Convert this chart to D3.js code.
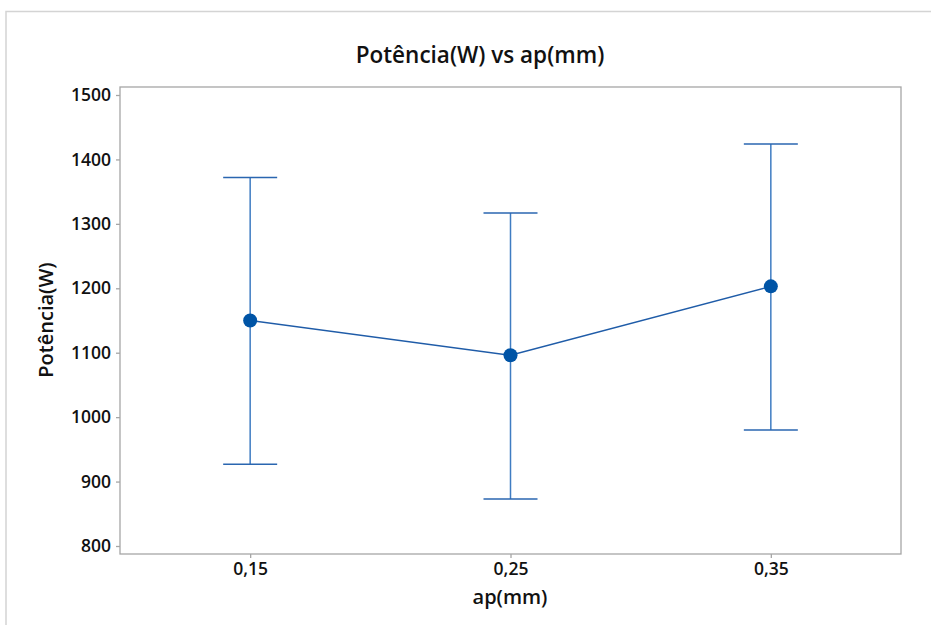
<!DOCTYPE html>
<html><head><meta charset="utf-8">
<script src="https://cdn.jsdelivr.net/npm/d3@7"></script>
<style>
html,body{margin:0;padding:0;background:#fff;}
text{font-family:"Open Sans","Noto Sans",sans-serif;fill:#111;}
</style></head>
<body>
<svg id="c" width="931" height="625"></svg>
<script>
const categories = [0.15, 0.25, 0.35];
const means = [1150, 1096, 1203];
const upper = [1372, 1317, 1424];
const lower = [927, 873, 980];
const yTicks = [800, 900, 1000, 1100, 1200, 1300, 1400, 1500];
const xTickLabels = ["0,15", "0,25", "0,35"];

const svg = d3.select("#c");
const L = 120, R = 901, T = 87, B = 554;

// outer frame
svg.append("path").attr("d","M6,625 V11.5 H931").attr("fill","none").attr("stroke","#d4d4d4").attr("stroke-width",1.5);

const x = d3.scaleLinear().domain([0.1, 0.4]).range([L, R]);
const y = d3.scaleLinear().domain([800, 1500]).range([546, 95]);

// plot box
svg.append("rect").attr("x",L).attr("y",T).attr("width",R-L).attr("height",B-T)
  .attr("fill","none").attr("stroke","#a6a6a6").attr("stroke-width",1.3);

const yAxis = svg.append("g").attr("transform",`translate(${L},0)`)
  .call(d3.axisLeft(y).tickValues(yTicks).tickSize(4).tickPadding(5).tickFormat(d3.format("d")));
const xAxis = svg.append("g").attr("transform",`translate(0,${B})`)
  .call(d3.axisBottom(x).tickValues(categories).tickSize(4).tickPadding(5).tickFormat((d,i)=>xTickLabels[i]));
[yAxis,xAxis].forEach(g=>{
  g.select(".domain").remove();
  g.selectAll(".tick line").attr("stroke","#a6a6a6").attr("stroke-width",1.3);
  g.selectAll(".tick text").attr("font-size",17.5).attr("font-weight",600)
   .attr("font-family","'Open Sans',sans-serif").attr("fill","#111");
});

// error bars
const eb = svg.append("g");
const cap = 27;
categories.forEach((c,i)=>{
  eb.append("line").attr("x1",x(c)).attr("x2",x(c)).attr("y1",y(upper[i])).attr("y2",y(lower[i]))
    .attr("stroke","#3f7cc2").attr("stroke-width",1.5);
  [upper[i],lower[i]].forEach(v=>{
    eb.append("line").attr("x1",x(c)-cap).attr("x2",x(c)+cap).attr("y1",y(v)).attr("y2",y(v))
      .attr("stroke","#2a66b0").attr("stroke-width",1.5);
  });
});

// connect line
const line = d3.line().x((d,i)=>x(categories[i])).y(d=>y(d));
svg.append("path").datum(means).attr("d",line).attr("fill","none").attr("stroke","#1f5ca8").attr("stroke-width",1.5);

svg.selectAll("circle.pt").data(means).enter().append("circle").attr("class","pt")
  .attr("cx",(d,i)=>x(categories[i])).attr("cy",d=>y(d)).attr("r",7).attr("fill","#0054a6");

// title & labels
svg.append("text").attr("x",480).attr("y",63).attr("text-anchor","middle")
  .attr("font-size",22.5).attr("font-weight",600).text("Potência(W) vs ap(mm)");
svg.append("text").attr("x",510).attr("y",604).attr("text-anchor","middle")
  .attr("font-size",20).attr("font-weight",600).text("ap(mm)");
svg.append("text").attr("transform","translate(53,320) rotate(-90)").attr("text-anchor","middle")
  .attr("font-size",20).attr("font-weight",600).text("Potência(W)");
</script>
</body></html>
